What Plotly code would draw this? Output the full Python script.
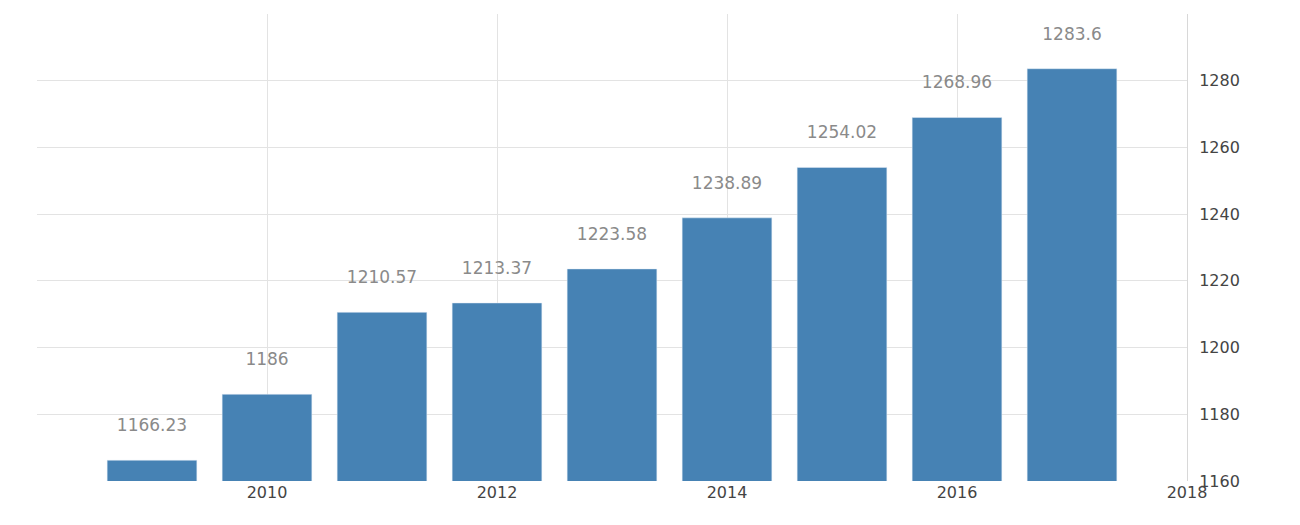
import plotly.graph_objects as go

years = [2009, 2010, 2011, 2012, 2013, 2014, 2015, 2016, 2017]
values = [1166.23, 1186, 1210.57, 1213.37, 1223.58, 1238.89, 1254.02, 1268.96, 1283.6]
labels = ["1166.23", "1186", "1210.57", "1213.37", "1223.58", "1238.89", "1254.02", "1268.96", "1283.6"]

fig = go.Figure(go.Bar(
    x=years, y=values, width=0.78, marker_color="#4682B4",
    text=[l + "<br> " for l in labels], textposition="outside", cliponaxis=False,
    textfont=dict(color="#8a8a8a", size=17, family="DejaVu Sans"),
))
fig.update_layout(
    width=1300, height=525, margin=dict(l=29, r=121, t=6, b=52),
    plot_bgcolor="white", paper_bgcolor="white", showlegend=False,
    font=dict(family="DejaVu Sans", size=16, color="#444"),
    xaxis=dict(range=[2008, 2018], tickvals=[2010, 2012, 2014, 2016, 2018],
               showgrid=True, gridcolor="#e3e3e3", zeroline=False, ticks=""),
    yaxis=dict(range=[1160, 1300], side="right", dtick=20, showgrid=True,
               gridcolor="#e3e3e3", zeroline=False, showline=True,
               linecolor="#d8d8d8", ticks="", ticklabelstandoff=8),
)
fig.write_html("out.html")
